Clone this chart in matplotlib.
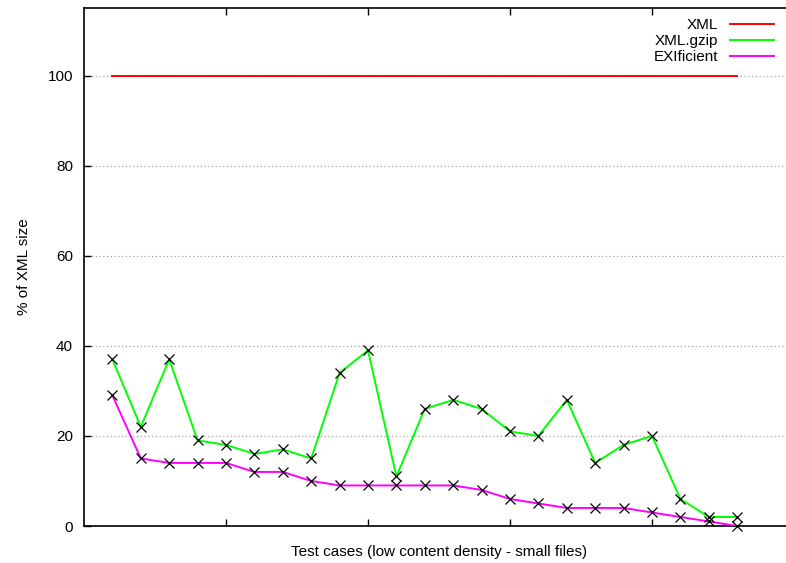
import numpy as np
import matplotlib
matplotlib.use("Agg")
import matplotlib.pyplot as plt

plt.rcParams['font.family'] = ['Liberation Sans', 'DejaVu Sans']

cases = np.arange(1, 24)
xml = [100] * 23
xml_gzip = [37, 22, 37, 19, 18, 16, 17, 15, 34, 39, 11, 26,
            28, 26, 21, 20, 28, 14, 18, 20, 6, 2, 2]
exificient = [29, 15, 14, 14, 14, 12, 12, 10, 9, 9, 9, 9,
              9, 8, 6, 5, 4, 4, 4, 3, 2, 1, 0]

fig = plt.figure(figsize=(7.86, 5.63), dpi=100)
ax = fig.add_axes([84/786, 1 - 526/563, 710/786, 518/563])

ax.plot(cases, xml, color='#ff0000', lw=1.4, label='XML', zorder=3)
ax.plot(cases, xml_gzip, color='#00ff00', lw=1.4, label='XML.gzip', zorder=3)
ax.plot(cases, exificient, color='#ff00ff', lw=1.4, label='EXIficient', zorder=3)
for s in (xml_gzip, exificient):
    ax.plot(cases, s, ls='none', marker='x', ms=6.5, mew=0.9, color='black',
            zorder=4, clip_on=False)

ax.set_xlim(0, 25)
ax.set_ylim(0, 115)
ax.set_yticks([0, 20, 40, 60, 80, 100])
ax.set_xticks([5, 10, 15, 20])
ax.set_xticklabels([])
ax.tick_params(axis='both', direction='in', length=5, width=1, labelsize=11,
               top=True, right=True)
ax.tick_params(axis='y', pad=8)
for y in [20, 40, 60, 80, 100]:
    ax.axhline(y, color='#a0a0a0', lw=0.9, ls=(0, (1, 2)), zorder=1)
for sp in ax.spines.values():
    sp.set_linewidth(1.2)

ax.set_xlabel('Test cases (low content density - small files)', fontsize=11, labelpad=10)
ax.set_ylabel('% of XML size', fontsize=11, labelpad=12)

ax.legend(loc='upper right', bbox_to_anchor=(783/794, 1.0), frameon=False,
          markerfirst=False, fontsize=11, handlelength=2.9, handletextpad=0.75,
          labelspacing=0.14, borderaxespad=0.25)

fig.savefig('out.png', dpi=100)
